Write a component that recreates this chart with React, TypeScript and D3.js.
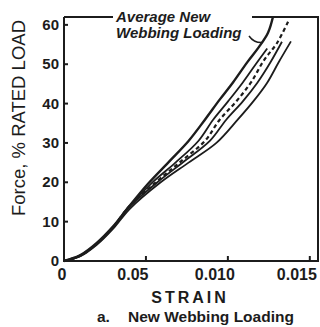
import { useEffect, useRef } from 'react'
import * as d3 from 'd3'

// strain (x) / force % rated load (y)
const strainA = [0, 0.001, 0.002, 0.003, 0.0039, 0.0051, 0.0064, 0.0076, 0.0086, 0.0095, 0.0103, 0.0112, 0.0119, 0.01245, 0.01275]
const forceA = [0, 1.5, 4.6, 8.8, 13.5, 19.5, 25.2, 30.5, 35.9, 41, 45.3, 50.6, 54.4, 58, 62]

const strainB = [0, 0.001, 0.002, 0.003, 0.0039, 0.0054, 0.0068, 0.0082, 0.0091, 0.01, 0.0109, 0.0117, 0.0124]
const forceB = [0, 1.4, 4.4, 8.7, 13.5, 20, 25, 30.5, 35.9, 40.5, 45.3, 50, 54]

const strainAvg = [0, 0.001, 0.002, 0.003, 0.0039, 0.0056, 0.0071, 0.0086, 0.0095, 0.0105, 0.0114, 0.0122, 0.013, 0.01373]
const forceAvg = [0, 1.4, 4.4, 8.6, 13.5, 20, 25.2, 30.5, 35.9, 40.5, 45.3, 51, 55.4, 61.3]

const strainC = [0, 0.001, 0.002, 0.003, 0.0039, 0.0057, 0.0073, 0.0089, 0.0099, 0.0109, 0.0118, 0.0126, 0.0133]
const forceC = [0, 1.3, 4.3, 8.5, 13.4, 20, 25.2, 30.5, 35.9, 40.5, 45.3, 50.5, 55.7]

const strainD = [0, 0.001, 0.002, 0.003, 0.004, 0.0059, 0.0076, 0.0093, 0.0106, 0.0116, 0.0124, 0.0131, 0.01385]
const forceD = [0, 1.2, 4.1, 8.2, 13.2, 20, 25, 30, 35.9, 40.8, 45.3, 50.5, 55.8]

const yTicks = [0, 10, 20, 30, 40, 50, 60]
const xTicks = [0, 0.005, 0.01, 0.015]
const xTickLabels = ['0', '0.05', '0.010', '0.015']

const width = 320
const height = 327
const ink = '#1c1c1c'
const font = 'Liberation Sans, Arial, Helvetica, sans-serif'

export default function App() {
  const svgRef = useRef<SVGSVGElement>(null)

  useEffect(() => {
    if (!svgRef.current) return
    const svg = d3.select(svgRef.current)
    svg.selectAll('*').remove()

    const x = d3.scaleLinear().domain([0, 0.0155]).range([64, 318])
    const y = d3.scaleLinear().domain([0, 62]).range([261, 17])

    const line = d3.line<[number, number]>()
      .x(d => x(d[0]))
      .y(d => y(d[1]))
      .curve(d3.curveCatmullRom.alpha(0.5))

    const series = [
      { xs: strainA, ys: forceA, dash: null, w: 2.4 },
      { xs: strainB, ys: forceB, dash: null, w: 1.8 },
      { xs: strainC, ys: forceC, dash: null, w: 1.8 },
      { xs: strainD, ys: forceD, dash: null, w: 1.8 },
      { xs: strainAvg, ys: forceAvg, dash: '4,3', w: 2.2 }
    ]

    series.forEach(s => {
      svg.append('path')
        .attr('d', line(s.xs.map((v, i) => [v, s.ys[i]] as [number, number])))
        .style('fill', 'none')
        .style('stroke', ink)
        .style('stroke-width', `${s.w}px`)
        .style('stroke-dasharray', s.dash)
    })

    // frame
    const x0 = x(0), x1 = x(0.0155), y0 = y(0), y1 = y(62)
    svg.append('path')
      .attr('d', `M${x0},${y1}V${y0}H${x1}V${y1}H252M113,${y1}H${x0}`)
      .style('fill', 'none')
      .style('stroke', ink)
      .style('stroke-width', '2px')

    // y ticks + labels
    yTicks.forEach(t => {
      if (t > 0) {
        svg.append('line')
          .attr('x1', x0).attr('x2', x0 + 4)
          .attr('y1', y(t)).attr('y2', y(t))
          .style('stroke', ink).style('stroke-width', '2px')
      }
      svg.append('text')
        .attr('x', x0 - 5)
        .attr('y', y(t) + 5)
        .attr('text-anchor', 'end')
        .style('fill', ink)
        .style('font-size', '15px')
        .style('font-weight', 'bold')
        .style('font-family', font)
        .text(t)
    })

    // x ticks + labels
    xTicks.forEach((t, i) => {
      if (t > 0) {
        svg.append('line')
          .attr('x1', x(t)).attr('x2', x(t))
          .attr('y1', y0).attr('y2', y0 - 5)
          .style('stroke', ink).style('stroke-width', '2px')
      }
      svg.append('text')
        .attr('x', x(t) + (t > 0 ? -13 : -2))
        .attr('y', 280)
        .attr('text-anchor', 'middle')
        .style('fill', ink)
        .style('font-size', '16px')
        .style('font-weight', 'bold')
        .style('font-family', font)
        .text(xTickLabels[i])
    })

    // y axis title
    svg.append('text')
      .attr('transform', `translate(25,${118}) rotate(-90)`)
      .attr('text-anchor', 'middle')
      .style('fill', ink)
      .style('font-size', '18.5px')
      .style('font-family', font)
      .text('Force, % RATED LOAD')

    // x axis title
    svg.append('text')
      .attr('x', 190)
      .attr('y', 303)
      .attr('text-anchor', 'middle')
      .style('fill', ink)
      .style('font-size', '16px')
      .style('font-weight', 'bold')
      .style('letter-spacing', '3px')
      .style('font-family', font)
      .text('STRAIN')

    // caption
    svg.append('text')
      .attr('x', 97)
      .attr('y', 322)
      .style('fill', ink)
      .style('font-size', '15.5px')
      .style('font-weight', 'bold')
      .style('font-family', font)
      .text('a.')
    svg.append('text')
      .attr('x', 128)
      .attr('y', 322)
      .style('fill', ink)
      .style('font-size', '15.5px')
      .style('font-weight', 'bold')
      .style('font-family', font)
      .text('New Webbing Loading')

    // annotation
    const label = svg.append('text')
      .style('fill', ink)
      .style('font-size', '15px')
      .style('font-weight', 'bold')
      .style('font-style', 'italic')
      .style('font-family', font)
    label.append('tspan').attr('x', 116).attr('y', 22).text('Average New')
    label.append('tspan').attr('x', 116).attr('y', 38).text('Webbing Loading')

    const px = x(0.0121), py = y(55.5)
    svg.append('path')
      .attr('d', `M249,36Q254,43 ${px},${py}`)
      .style('fill', 'none')
      .style('stroke', ink)
      .style('stroke-width', '1.5px')
  }, [])

  return (
    <svg ref={svgRef} width={width} height={height}
      style={{ position: 'absolute', left: 0, top: 0, background: '#fff' }} />
  )
}
